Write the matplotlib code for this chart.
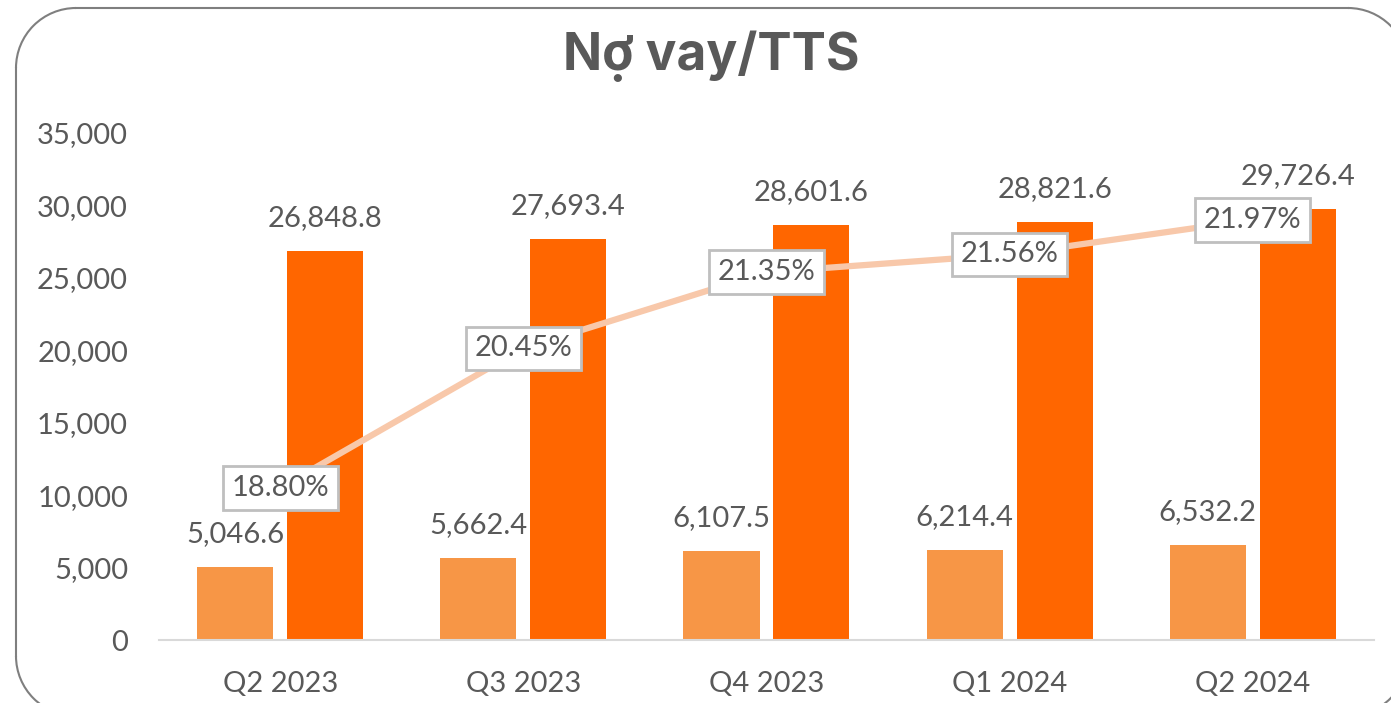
import matplotlib.pyplot as plt
from matplotlib.patches import Arc
from matplotlib.lines import Line2D

# data
quarters = ["Q2 2023", "Q3 2023", "Q4 2023", "Q1 2024", "Q2 2024"]
no_vay = [5046.6, 5662.4, 6107.5, 6214.4, 6532.2]
tong_ts = [26848.8, 27693.4, 28601.6, 28821.6, 29726.4]
ty_le = [18.80, 20.45, 21.35, 21.56, 21.97]

text_gray = "#595959"
plt.rcParams['font.family'] = ['Lato', 'DejaVu Sans']

fig = plt.figure(figsize=(13.91, 7.03), dpi=100)
ax = fig.add_axes([0.114, 0.0896, 0.874, 0.7216])

x = list(range(len(quarters)))
w = 0.313
off = 0.185
ax.bar([i - off for i in x], no_vay, width=w, color="#F79646", zorder=2)
ax.bar([i + off for i in x], tong_ts, width=w, color="#FF6600", zorder=2)

for i in x:
    ax.annotate(f"{no_vay[i]:,.1f}", (i - off, no_vay[i]), xytext=(0, 18),
                textcoords="offset points", ha="center", va="baseline",
                fontsize=21, color=text_gray)
    ax.annotate(f"{tong_ts[i]:,.1f}", (i + off, tong_ts[i]), xytext=(0, 18),
                textcoords="offset points", ha="center", va="baseline",
                fontsize=21, color=text_gray)

ax.set_xlim(-0.5, 4.5)
ax.set_ylim(0, 35000)
ax.set_yticks(range(0, 35001, 5000))
ax.set_yticklabels([f"{v:,}" for v in range(0, 35001, 5000)])
ax.set_xticks(x)
ax.set_xticklabels(quarters)
ax.tick_params(axis="both", length=0, labelsize=21, labelcolor=text_gray)
ax.tick_params(axis="y", pad=22)
ax.tick_params(axis="x", pad=22)
for s in ["top", "right", "left"]:
    ax.spines[s].set_visible(False)
ax.spines["bottom"].set_color("#D9D9D9")
ax.spines["bottom"].set_linewidth(1.5)

# ratio line on a hidden second axis
ax2 = ax.twinx()
ax2.set_ylim(17, 23)
ax2.plot(x, ty_le, color="#F8C8AA", linewidth=4.5, solid_capstyle="round", zorder=3)
for i in x:
    ax2.text(i, ty_le[i], f"{ty_le[i]:.2f}%", ha="center", va="center",
             fontsize=21, color=text_gray, zorder=5,
             bbox=dict(boxstyle="square,pad=0.3", facecolor="white",
                       edgecolor="#BFBFBF", linewidth=2))
ax2.axis("off")

fig.text(0.511, 0.92, "Nợ vay/TTS", ha="center", va="center", fontsize=37,
         fontweight="bold", color=text_gray, family=["Inter", "DejaVu Sans"])

# rounded chart border drawn in pixels (origin bottom-left)
H = 703
left, right, top, bottom, r = 16, 1408, H - 8, H - 716, 60
kw = dict(transform=None, color="#7F7F7F", linewidth=1.5)
fig.add_artist(Line2D([left + r, right - r], [top, top], **kw))
fig.add_artist(Line2D([left, left], [bottom + r, top - r], **kw))
fig.add_artist(Line2D([right, right], [bottom + r, top - r], **kw))
fig.add_artist(Line2D([left + r, right - r], [bottom, bottom], **kw))
akw = dict(transform=None, edgecolor="#7F7F7F", linewidth=1.5)
fig.add_artist(Arc((left + r, top - r), 2 * r, 2 * r, theta1=90, theta2=180, **akw))
fig.add_artist(Arc((right - r, top - r), 2 * r, 2 * r, theta1=0, theta2=90, **akw))
fig.add_artist(Arc((left + r, bottom + r), 2 * r, 2 * r, theta1=180, theta2=270, **akw))
fig.add_artist(Arc((right - r, bottom + r), 2 * r, 2 * r, theta1=270, theta2=360, **akw))

fig.savefig("out.png", dpi=100)
